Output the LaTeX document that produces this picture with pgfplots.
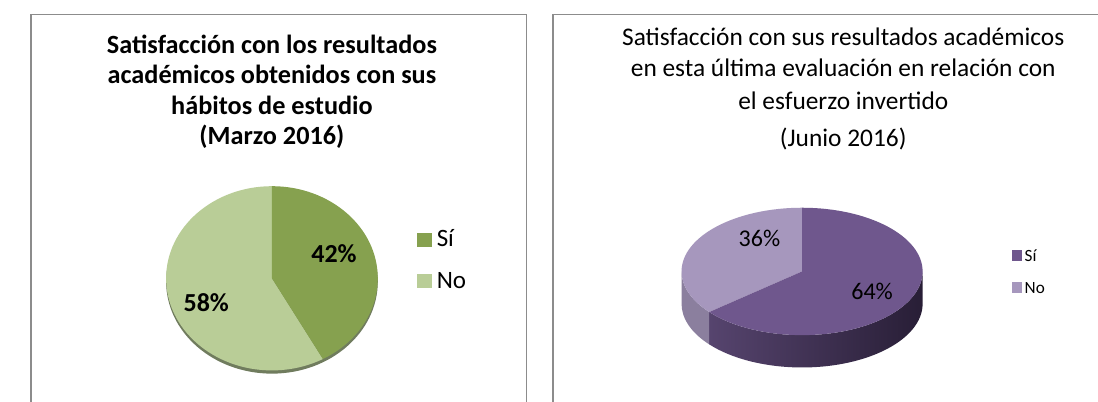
\documentclass[border=0pt]{standalone}
\usepackage{pgfplots}
\usepackage{pgfplotstable}
\pgfplotsset{compat=1.18}
\usepackage{fontspec}
\setmainfont{Carlito}

\definecolor{mSi}{RGB}{134,161,79}
\definecolor{mNo}{RGB}{185,205,151}
\definecolor{mShadow}{RGB}{112,124,94}
\definecolor{jSi}{RGB}{111,87,141}
\definecolor{jNo}{RGB}{166,151,189}
\definecolor{jSiSideL}{RGB}{86,68,110}
\definecolor{jSiSideR}{RGB}{40,30,54}
\definecolor{jNoSide}{RGB}{139,127,158}
\definecolor{frame}{RGB}{140,140,140}

% Marzo 2016 (percent)
\pgfplotstableread{
cat valor
Si 42
No 58
}\marzo
% Junio 2016 (percent)
\pgfplotstableread{
cat valor
Si 64
No 36
}\junio

\begin{document}
\pgfplotstablegetelem{0}{valor}\of\marzo \edef\mSiV{\pgfplotsretval}
\pgfplotstablegetelem{1}{valor}\of\marzo \edef\mNoV{\pgfplotsretval}
\pgfplotstablegetelem{0}{valor}\of\junio \edef\jSiV{\pgfplotsretval}
\pgfplotstablegetelem{1}{valor}\of\junio \edef\jNoV{\pgfplotsretval}
\pgfmathsetmacro\mSiEnd{90-3.6*\mSiV}
\pgfmathsetmacro\mNoEnd{90+3.6*\mNoV}
\pgfmathsetmacro\jSiEnd{90-3.6*\jSiV}
\pgfmathsetmacro\jNoEnd{90+3.6*\jNoV}
\pgfmathsetmacro\jSplitCos{cos(\jNoEnd)}
\pgfmathsetmacro\jSplitSin{sin(\jNoEnd)}
\begin{tikzpicture}[x=1bp,y=1bp]
\useasboundingbox (0,0) rectangle (1098,410);
\clip (0,0) rectangle (1098,410);
\fill[white] (0,0) rectangle (1098,410);
\draw[frame, line width=1.4bp] (9.3,-5) -- (9.3,395.3) -- (514.7,395.3) -- (514.7,-5);
\draw[frame, line width=1.4bp] (541.7,-5) -- (541.7,395.3) -- (1110,395.3);

% ---------- left chart: Marzo 2016 ----------
\begin{axis}[at={(255bp,126bp)}, anchor=center, scale only axis,
  width=216bp, height=188bp, xmin=-1, xmax=1, ymin=-1, ymax=1,
  hide axis, clip=false]
  \fill[mShadow] (axis cs:0,-0.035) ellipse [x radius=108bp, y radius=94bp];
  \fill[mNo] (axis cs:0,0) -- (axis cs:0,1)
     arc[start angle=90, end angle=\mNoEnd, x radius=108bp, y radius=94bp] -- cycle;
  \fill[mSi] (axis cs:0,0) -- (axis cs:0,1)
     arc[start angle=90, end angle=\mSiEnd, x radius=108bp, y radius=94bp] -- cycle;
\end{axis}

\node[anchor=base, font=\fontsize{26.8bp}{31bp}\selectfont\bfseries] at (255,355.5) {Satisfacción con los resultados};
\node[anchor=base, font=\fontsize{26.8bp}{31bp}\selectfont\bfseries] at (255,324.3) {académicos obtenidos con sus};
\node[anchor=base, font=\fontsize{26.8bp}{31bp}\selectfont\bfseries] at (255,293.2) {hábitos de estudio};
\node[anchor=base, font=\fontsize{26.8bp}{31bp}\selectfont\bfseries] at (255,262.5) {(Marzo 2016)};

\node[font=\fontsize{26.5bp}{30bp}\selectfont\bfseries] at (318.3,151.3) {42\%};
\node[font=\fontsize{26.5bp}{30bp}\selectfont\bfseries] at (188,100.7) {58\%};

\fill[mSi] (403,158) rectangle (418,172);
\fill[mNo] (403,116) rectangle (418,130);
\node[anchor=base west, inner sep=0pt, font=\fontsize{25.5bp}{28bp}\selectfont] at (423,158) {Sí};
\node[anchor=base west, inner sep=0pt, font=\fontsize{25.5bp}{28bp}\selectfont] at (423,116) {No};

% ---------- right chart: Junio 2016 ----------
\begin{axis}[at={(796bp,133bp)}, anchor=center, scale only axis,
  width=246bp, height=130bp, xmin=-1, xmax=1, ymin=-1, ymax=1,
  hide axis, clip=false]
  \shade[left color=jSiSideL, right color=jSiSideR]
     (axis cs:\jSplitCos,\jSplitSin)
     arc[start angle=\jNoEnd, end angle=360, x radius=123bp, y radius=65bp]
     -- ++(0bp,-33bp)
     arc[start angle=360, end angle=\jNoEnd, x radius=123bp, y radius=65bp] -- cycle;
  \fill[jNoSide] (axis cs:-1,0)
     arc[start angle=180, end angle=\jNoEnd, x radius=123bp, y radius=65bp]
     -- ++(0bp,-33bp)
     arc[start angle=\jNoEnd, end angle=180, x radius=123bp, y radius=65bp] -- cycle;
  \fill[jNo] (axis cs:0,0) -- (axis cs:0,1)
     arc[start angle=90, end angle=\jNoEnd, x radius=123bp, y radius=65bp] -- cycle;
  \fill[jSi] (axis cs:0,0) -- (axis cs:0,1)
     arc[start angle=90, end angle=\jSiEnd, x radius=123bp, y radius=65bp] -- cycle;
\end{axis}

\node[anchor=base, font=\fontsize{25.9bp}{31bp}\selectfont] at (838,364) {Satisfacción con sus resultados académicos};
\node[anchor=base, font=\fontsize{25.9bp}{31bp}\selectfont] at (838,331.5) {en esta última evaluación en relación con};
\node[anchor=base, font=\fontsize{25.9bp}{31bp}\selectfont] at (838,298.5) {el esfuerzo invertido};
\node[anchor=base, font=\fontsize{25.9bp}{31bp}\selectfont] at (838,261) {(Junio 2016)};

\node[font=\fontsize{24.5bp}{28bp}\selectfont] at (752.5,166.7) {36\%};
\node[font=\fontsize{24.5bp}{28bp}\selectfont] at (867.5,113) {64\%};

\fill[jSi] (1010,144) rectangle (1020,155);
\fill[jNo] (1010,111) rectangle (1020,122);
\node[anchor=base west, inner sep=0pt, font=\fontsize{17.5bp}{20bp}\selectfont] at (1023,143.5) {Sí};
\node[anchor=base west, inner sep=0pt, font=\fontsize{17.5bp}{20bp}\selectfont] at (1023,110.5) {No};
\end{tikzpicture}
\end{document}
